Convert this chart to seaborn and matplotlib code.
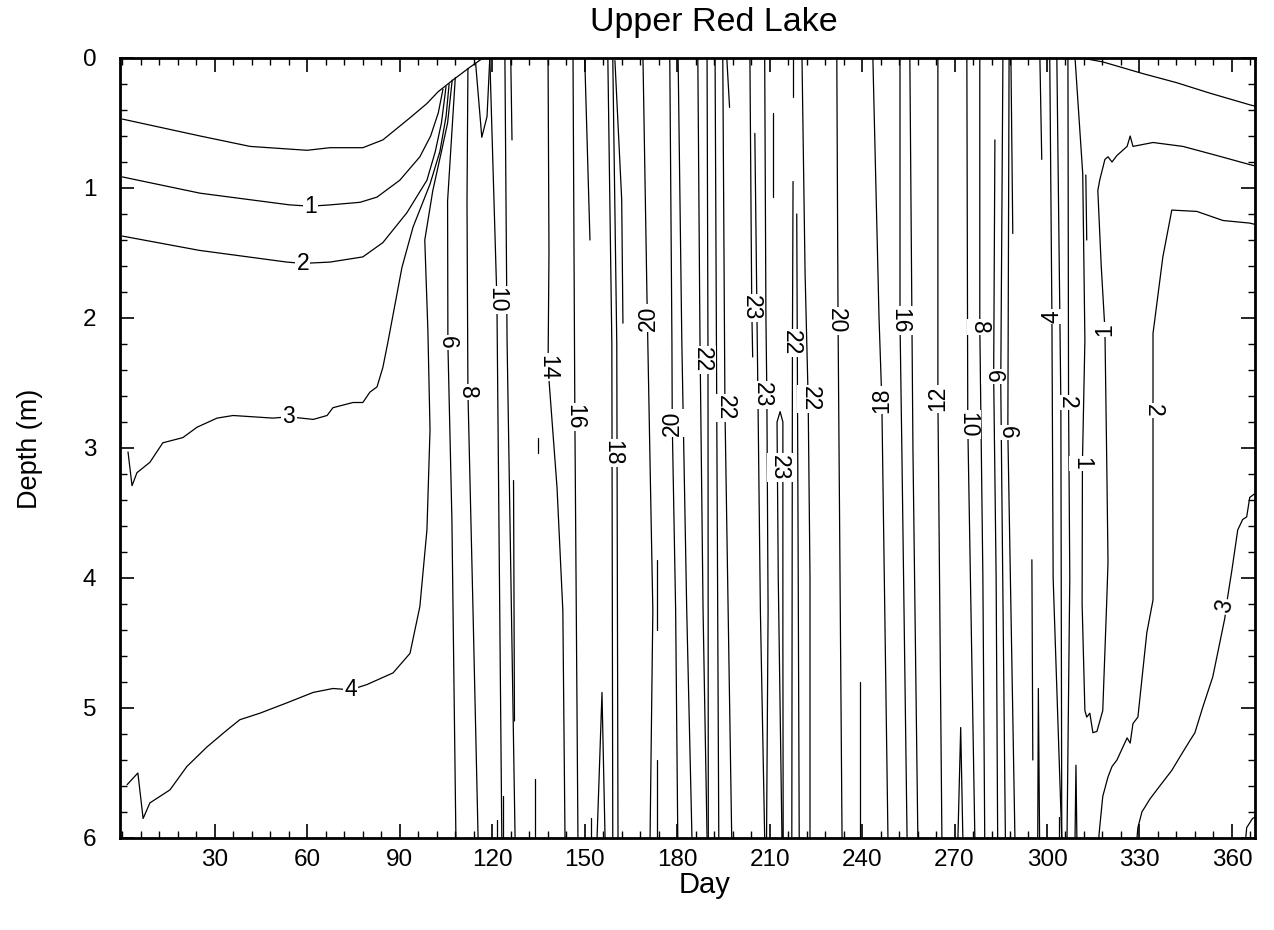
import numpy as np
import pandas as pd
import matplotlib
matplotlib.use("Agg")
import matplotlib.pyplot as plt
import seaborn as sns
from matplotlib.ticker import MultipleLocator

# ---------------- data (day of year, depth in m) ----------------
# isotherms under ice (winter / spring)
ice_top_day = [0, 25.2, 41.4, 59.9, 67.3, 78, 84.5, 93.3, 98.8, 102.4, 107.2, 112.8, 117]
ice_top_depth = [0.47, 0.60, 0.68, 0.71, 0.69, 0.69, 0.63, 0.46, 0.35, 0.26, 0.17, 0.07, 0.0]

iso1_day = [0, 25.2, 54.3, 61, 67.3, 77.1, 82.6, 90, 96.5, 100, 102.5, 104]
iso1_depth = [0.915, 1.04, 1.13, 1.14, 1.13, 1.11, 1.07, 0.94, 0.76, 0.6, 0.42, 0.24]

iso2_day = [0, 25, 53.4, 58.5, 67.3, 78, 84.5, 92.3, 98.8, 101.5, 103.5, 105]
iso2_depth = [1.37, 1.48, 1.57, 1.58, 1.57, 1.53, 1.42, 1.19, 0.94, 0.72, 0.5, 0.22]

iso3_day = [1.8, 3.1, 4.7, 8.9, 13.1, 19.6, 24.2, 30.7, 35.9, 48.8, 54, 61.9, 66.4,
            68.3, 74.8, 78, 80.3, 82.6, 84.5, 86.1, 90.7, 94.3, 99.8, 103, 105, 106]
iso3_depth = [3.03, 3.29, 3.19, 3.11, 2.96, 2.92, 2.84, 2.77, 2.75, 2.77, 2.76, 2.78, 2.75,
              2.69, 2.65, 2.65, 2.57, 2.53, 2.38, 2.19, 1.61, 1.3, 0.97, 0.72, 0.45, 0.2]

iso4_day = [1.5, 5, 6.7, 8.9, 15.4, 20.9, 27.4, 33.9, 38.1, 44.6, 53.4, 61.9, 68.3, 74,
            79.3, 87.8, 93.3, 96.5, 98.8, 99.8, 99.1, 98.1, 100.7, 103.5, 105.5, 107]
iso4_depth = [5.59, 5.5, 5.85, 5.73, 5.63, 5.45, 5.3, 5.17, 5.09, 5.04, 4.96, 4.88, 4.85, 4.86,
              4.82, 4.73, 4.58, 4.22, 3.63, 2.86, 2.09, 1.4, 1.02, 0.72, 0.5, 0.17]

# open-water isotherms (mixed water column)
spring_isotherms = [
    [(108.0, 0.15), (105.5, 1.1), (105.6, 2.2), (106.9, 3.55), (108.2, 6)],
    [(112.1, 0.08), (111.8, 1.1), (112.1, 2.57), (113.7, 4.2), (115.4, 6)],
    [(114.6, 0.04), (116.6, 0.61), (118.3, 0.45), (119.2, 0)],
    [(119.2, 0), (121.5, 1.86), (123.1, 6)],
    [(124.1, 0), (124.8, 2.17), (127.4, 6)],
    [(138.1, 0), (138.4, 1.5), (138.1, 2.38), (141, 3.3), (142.9, 4.25), (143.6, 6)],
    [(146.2, 0), (146.8, 2.76), (147.8, 6)],
    [(157.5, 0), (158.8, 2.2), (159.1, 6)],
    [(159.1, 0), (160.4, 2.2), (160.8, 6)],
    [(168.9, 0), (170.2, 1.84), (171.2, 3.12), (172.1, 4.25), (171.2, 6)],
    [(177.6, 0), (178.3, 2.2), (178.4, 2.81), (179.5, 4.25), (180.2, 6)],
    [(180.3, 0), (181.5, 2.17), (183.1, 4.25), (184.8, 6)],
]
peak_isotherms = [
    [(186.7, 0), (187.4, 2.17), (188.4, 4.25), (189.7, 6)],
    [(189.7, 0), (190, 2.3), (190.1, 6)],
    [(192.3, 0), (192.9, 3), (193.5, 6)],
    [(194.8, 0), (195.5, 2.69), (197.7, 6)],
    [(203.6, 0), (204.2, 1.92), (204.5, 2.3)],
    [(205.2, 0.58), (205.9, 2.0), (206.2, 2.59), (207, 4.25), (208.4, 6)],
    [(208.4, 0), (208.8, 2.0), (209.1, 2.59), (209.5, 4.25), (209.0, 6)],
    [(214.0, 6), (212.8, 4.0), (212.4, 2.8), (213.4, 2.72), (214.3, 2.8), (214.3, 4.5), (214.4, 6)],
    [(217.6, 0.95), (217.4, 2.19), (217.2, 6)],
    [(218.8, 1.2), (219.2, 3.5), (219.6, 6)],
    [(220.5, 0), (221.5, 1.65), (222.5, 2.62), (223.1, 4), (223.1, 6)],
]
cooling_isotherms = [
    [(231.8, 0), (232.2, 2.02), (233.5, 6)],
    [(243.5, 0), (245.5, 2.0), (246.4, 2.63), (248.4, 6)],
    [(252.3, 0), (252.3, 2.02), (252.9, 3), (254.6, 6)],
    [(255.5, 0), (256.5, 3), (258.1, 6)],
    [(264.6, 0), (264.6, 2.62), (265.9, 6)],
    [(274.0, 0), (274.3, 2.82), (276.6, 6)],
    [(278.2, 0), (278.2, 2.07), (279.2, 4), (279.8, 6)],
    [(283.1, 0.63), (282.7, 2.45), (283.5, 4), (284, 6)],
    [(285.7, 0), (285.0, 2.5), (286.5, 6)],
    [(287.7, 0), (287.3, 2.88), (289.6, 6)],
    [(300.9, 0), (301.6, 1.99), (302, 4), (304.8, 6)],
    [(303.2, 0), (304.5, 2.65), (304.8, 6)],
    [(306.8, 0), (307.0, 2.65), (307.4, 4), (306.5, 6)],
]
short_isotherms = [
    [(126.0, 0), (126.4, 0.63)], [(126.9, 3.25), (127.2, 5.1)],
    [(121.5, 5.86), (121.5, 6)], [(123.5, 5.68), (123.5, 6)],
    [(133.8, 5.55), (133.8, 6)], [(134.9, 2.92), (134.9, 3.04)],
    [(150, 0), (151.7, 1.4)], [(152, 5.85), (152, 6)],
    [(154, 6), (155.6, 4.88), (156.6, 6)],
    [(159.8, 0.02), (162, 1.09), (162.4, 2.04)],
    [(173.5, 3.86), (173.5, 4.4)], [(173.3, 5.4), (173.3, 6)],
    [(196.1, 0), (197, 0.38)], [(211.1, 0.42), (211.1, 1.07)],
    [(217.6, 0), (217.6, 0.3)], [(239.3, 4.8), (239.3, 6)],
    [(271.1, 6), (272, 5.15), (272.7, 6)], [(288.3, 0), (288.9, 1.35)],
    [(295.1, 3.86), (295.4, 5.4)], [(297.0, 6), (297.2, 4.85), (297.6, 6)],
    [(297.7, 0), (298.3, 0.78)], [(303.8, 5.84), (303.8, 6)],
    [(309.1, 6), (309.4, 5.44), (309.7, 6)], [(312.6, 0.9), (312.9, 1.4)],
]

# isotherms after freeze-up (autumn / winter)
fall_top_day = [311.0, 313.5, 318.1, 331.1, 342.1, 352.8, 365.8, 367.5]
fall_top_depth = [0, 0.01, 0.03, 0.12, 0.19, 0.27, 0.36, 0.37]

fall1_day = [309.1, 311.6, 312.3, 311.5, 311.4, 312.3, 312.9, 313.9, 314.9, 316.2,
             318.1, 319.4, 319.8, 319.4, 318.8, 317.6, 316.5, 317.1, 318.8, 319.8,
             321.1, 322.7, 326.0, 327.0, 327.9, 334.4, 344.1, 355.1, 365.8, 367.5]
fall1_depth = [0, 0.89, 2.17, 3.12, 4.2, 5.02, 5.07, 5.04, 5.19, 5.18,
               5.02, 4.17, 3.88, 3.12, 2.09, 1.6, 1.02, 0.94, 0.78, 0.76,
               0.8, 0.75, 0.68, 0.6, 0.68, 0.65, 0.68, 0.75, 0.82, 0.83]

fall2_day = [316.8, 317.1, 318.1, 319.8, 321.1, 322.7, 326.0, 327.0, 327.9, 329.5,
             332.4, 334.4, 334.4, 334.4, 337.6, 340.5, 348.6, 357.1, 365.8, 367.5]
fall2_depth = [6, 5.92, 5.68, 5.53, 5.45, 5.4, 5.23, 5.27, 5.12, 5.07,
               4.42, 4.17, 3.0, 2.12, 1.53, 1.17, 1.18, 1.25, 1.27, 1.28]

fall3_day = [329.2, 329.5, 330.8, 333.4, 336.6, 340.5, 343.8, 346.4, 348.0, 350.6,
             353.8, 357.7, 358.6, 360.0, 361.9, 363.5, 364.8, 365.8, 367.5]
fall3_depth = [6, 5.92, 5.8, 5.7, 5.6, 5.48, 5.35, 5.25, 5.19, 4.99,
               4.76, 4.31, 4.15, 3.94, 3.63, 3.55, 3.53, 3.38, 3.35]

fall4_day = [364.5, 364.8, 366.7, 367.5]
fall4_depth = [6, 5.92, 5.85, 5.84]

# contour labels
label_text = ["1", "2", "3", "4",
              "6", "8", "10", "14", "16", "18", "20", "20", "22", "22",
              "23", "23", "23", "22", "22", "20", "18", "16", "12", "10",
              "8", "6", "6", "4", "2", "1", "1", "2", "3"]
label_day = [61, 58.5, 54, 74,
             105.5, 112.0, 121.4, 138.1, 146.8, 159.0, 170.5, 178.4, 188.3, 195.5,
             204.2, 207.6, 213.3, 217.2, 223.1, 231.8, 246.4, 252.3, 264.6, 274.3,
             278.2, 282.7, 287.3, 301.6, 306.5, 311.4, 318.8, 334.4, 357.7]
label_depth = [1.14, 1.58, 2.76, 4.86,
               2.19, 2.57, 1.86, 2.38, 2.76, 3.04, 2.0, 2.81, 2.32, 2.69,
               1.92, 2.59, 3.15, 2.19, 2.62, 2.02, 2.63, 2.02, 2.62, 2.82,
               2.07, 2.45, 2.88, 1.99, 2.65, 3.12, 2.09, 2.71, 4.22]
label_rot = [0, 0, 0, 0,
             -90, -90, -90, -90, -90, -90, 90, 90, -90, -90,
             -90, -90, -90, -90, -90, -90, 90, -90, 90, -90,
             -90, -90, -90, 90, -90, -90, 90, -90, 75]

x_ticks = [30, 60, 90, 120, 150, 180, 210, 240, 270, 300, 330, 360]
y_ticks = [0, 1, 2, 3, 4, 5, 6]

# ---------------- build long table ----------------
rows = []


def add_line(name, days, depths):
    for i, (d, z) in enumerate(zip(days, depths)):
        rows.append({"line": name, "order": i, "day": d, "depth": z})


add_line("ice_top", ice_top_day, ice_top_depth)
add_line("iso1", iso1_day, iso1_depth)
add_line("iso2", iso2_day, iso2_depth)
add_line("iso3", iso3_day, iso3_depth)
add_line("iso4", iso4_day, iso4_depth)
for group, polys in [("spring", spring_isotherms), ("peak", peak_isotherms),
                     ("cool", cooling_isotherms), ("short", short_isotherms)]:
    for k, poly in enumerate(polys):
        add_line(f"{group}{k}", [p[0] for p in poly], [p[1] for p in poly])
add_line("fall_top", fall_top_day, fall_top_depth)
add_line("fall1", fall1_day, fall1_depth)
add_line("fall2", fall2_day, fall2_depth)
add_line("fall3", fall3_day, fall3_depth)
add_line("fall4", fall4_day, fall4_depth)
df = pd.DataFrame(rows)

# ---------------- plot ----------------
sns.set_style("ticks")
plt.rcParams["font.family"] = ["Liberation Sans", "DejaVu Sans"]
plt.rcParams["text.color"] = "black"

W, H = 1274, 930
fig = plt.figure(figsize=(W / 100, H / 100), dpi=100)
ax = fig.add_axes([120 / W, 1 - 838 / H, (1255 - 120) / W, (838 - 58) / H])

sns.lineplot(data=df, x="day", y="depth", units="line", estimator=None, sort=False,
             color="black", linewidth=0.9, legend=False, ax=ax)

for t, d, z, r in zip(label_text, label_day, label_depth, label_rot):
    ax.text(d, z, t, rotation=r, rotation_mode="anchor", ha="center", va="center",
            fontsize=16.5, color="black",
            bbox=dict(facecolor="white", edgecolor="none", pad=1.0), zorder=5)

ax.set_xlim(-0.8, 367.5)
ax.set_ylim(6, 0)
ax.set_xticks(x_ticks)
ax.set_yticks(y_ticks)
ax.xaxis.set_minor_locator(MultipleLocator(6))
ax.yaxis.set_minor_locator(MultipleLocator(0.2))
ax.tick_params(which="both", direction="in", top=True, right=True, color="black",
               labelcolor="black")
ax.tick_params(which="major", length=10, width=1.2)
ax.tick_params(which="minor", length=5, width=1.0)
ax.tick_params(axis="x", labelsize=17.5, pad=8)
ax.tick_params(axis="y", labelsize=17.5, pad=17)
for s in ax.spines.values():
    s.set_linewidth(2.0)
    s.set_color("black")

ax.set_xlabel("")
ax.set_ylabel("")
fig.text(705 / W, 1 - 885 / H, "Day", ha="center", va="center", fontsize=21)
fig.text(30 / W, 1 - 449 / H, "Depth (m)", ha="center", va="center", rotation=90, fontsize=19.5)
fig.text(714 / W, 1 - 22 / H, "Upper Red Lake", ha="center", va="center", fontsize=24.5)

fig.savefig("out.png", dpi=100, facecolor="white")
